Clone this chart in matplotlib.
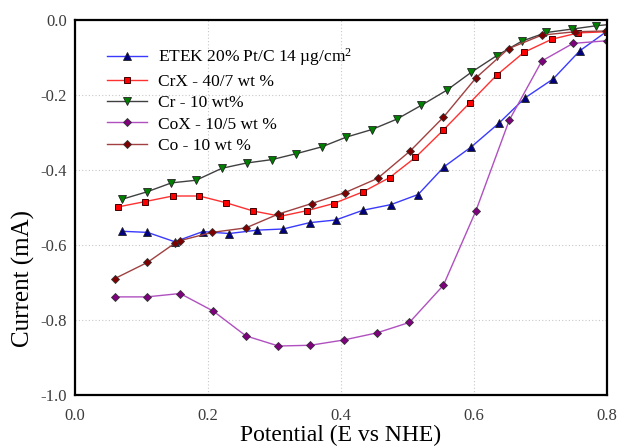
import matplotlib
matplotlib.use('Agg')
import matplotlib.pyplot as plt

plt.rcParams['font.family'] = ['Liberation Serif', 'DejaVu Serif']
plt.rcParams['mathtext.fontset'] = 'custom'
plt.rcParams['mathtext.rm'] = 'Liberation Serif'
plt.rcParams['mathtext.it'] = 'Liberation Serif:italic'

# ETEK 20% Pt/C
etek_x = [0.070, 0.109, 0.150, 0.192, 0.232, 0.274, 0.313, 0.353, 0.392, 0.433, 0.475,
	0.516, 0.555, 0.596, 0.638, 0.677, 0.719, 0.759, 0.802]
etek_y = [-0.563, -0.566, -0.591, -0.564, -0.569, -0.560, -0.557, -0.540, -0.533, -0.507, -0.492,
	-0.465, -0.391, -0.338, -0.274, -0.207, -0.157, -0.082, -0.027]

# CrX - 40/7 wt %
crx_x = [0.065, 0.105, 0.147, 0.187, 0.227, 0.268, 0.309, 0.349, 0.389, 0.433, 0.473,
	0.512, 0.554, 0.594, 0.634, 0.675, 0.717, 0.757, 0.800]
crx_y = [-0.498, -0.484, -0.469, -0.469, -0.487, -0.509, -0.523, -0.508, -0.489, -0.458, -0.420,
	-0.366, -0.293, -0.220, -0.147, -0.086, -0.051, -0.034, -0.031]

# Cr - 10 wt%
cr_x = [0.070, 0.108, 0.145, 0.182, 0.221, 0.258, 0.296, 0.333, 0.371, 0.408, 0.446,
	0.484, 0.521, 0.559, 0.596, 0.634, 0.672, 0.709, 0.747, 0.784, 0.802]
cr_y = [-0.478, -0.458, -0.434, -0.427, -0.395, -0.381, -0.372, -0.356, -0.338, -0.312, -0.292,
	-0.264, -0.227, -0.187, -0.139, -0.095, -0.056, -0.033, -0.024, -0.015, -0.012]

# CoX - 10/5 wt %
cox_x = [0.060, 0.108, 0.158, 0.208, 0.257, 0.306, 0.354, 0.404, 0.454, 0.503, 0.554,
	0.603, 0.653, 0.702, 0.749, 0.800]
cox_y = [-0.738, -0.738, -0.729, -0.776, -0.842, -0.869, -0.867, -0.853, -0.834, -0.806, -0.707,
	-0.508, -0.267, -0.109, -0.062, -0.055]

# Co - 10 wt %
co_x = [0.060, 0.109, 0.150, 0.158, 0.206, 0.257, 0.306, 0.356, 0.406, 0.455, 0.504,
	0.554, 0.603, 0.652, 0.702, 0.752, 0.798]
co_y = [-0.689, -0.646, -0.595, -0.588, -0.566, -0.554, -0.517, -0.489, -0.460, -0.422, -0.349,
	-0.259, -0.154, -0.076, -0.040, -0.031, -0.029]

fig = plt.figure(figsize=(6.2, 4.47), dpi=100)
ax = fig.add_axes([0.121, 0.116, 0.858, 0.839])

ms = 4.5
ax.plot(etek_x, etek_y, color='#3a3aff', lw=1, marker='^', ms=ms + 0.8, markerfacecolor='#000080',
	markeredgecolor='#222222', markeredgewidth=0.6, markevery=slice(0, -1),
	label='ETEK 20% Pt/C 14 \u00b5g/cm$^2$')
ax.plot(crx_x, crx_y, color='#ff3030', lw=1, marker='s', ms=ms, markerfacecolor='#ff0000',
	markeredgecolor='#400000', markeredgewidth=0.7, label='CrX - 40/7 wt %')
ax.plot(cr_x, cr_y, color='#404040', lw=1, marker='v', ms=ms + 0.8, markerfacecolor='#008000',
	markeredgecolor='#222222', markeredgewidth=0.6, markevery=slice(0, -1), label='Cr - 10 wt%')
ax.plot(cox_x, cox_y, color='#b050c0', lw=1, marker='D', ms=ms - 0.8, markerfacecolor='#800080',
	markeredgecolor='#333333', markeredgewidth=0.6, label='CoX - 10/5 wt %')
ax.plot(co_x, co_y, color='#a04040', lw=1, marker='D', ms=ms - 0.8, markerfacecolor='#800000',
	markeredgecolor='#333333', markeredgewidth=0.6, label='Co - 10 wt %')

ax.set_xlim(0.0, 0.8)
ax.set_ylim(-1.0, 0.0)
ax.set_xticks([0.0, 0.2, 0.4, 0.6, 0.8])
ax.set_yticks([-1.0, -0.8, -0.6, -0.4, -0.2, 0.0])
ax.set_xticklabels(['0.0', '0.2', '0.4', '0.6', '0.8'])
ax.set_yticklabels(['-1.0', '-0.8', '-0.6', '-0.4', '-0.2', '0.0'])
ax.tick_params(length=0, labelsize=12, labelcolor='#3c3c3c')
ax.tick_params(axis='x', pad=9)
ax.tick_params(axis='y', pad=6)
ax.grid(True, color='#c8c8c8', linestyle=(0, (1, 2)), linewidth=0.8)
for s in ax.spines.values():
	s.set_linewidth(1.6)
	s.set_color('black')

ax.set_xlabel('Potential (E vs NHE)', fontsize=17, labelpad=1)
ax.set_ylabel('Current (mA)', fontsize=18, labelpad=2)
ax.yaxis.set_label_coords(-0.076, 0.31)

ax.legend(loc='upper left', bbox_to_anchor=(0.048, 0.948), frameon=False, fontsize=12.5,
	handlelength=2.3, handletextpad=0.6, labelspacing=0.3, borderaxespad=0)

fig.savefig('out.png', dpi=100)
